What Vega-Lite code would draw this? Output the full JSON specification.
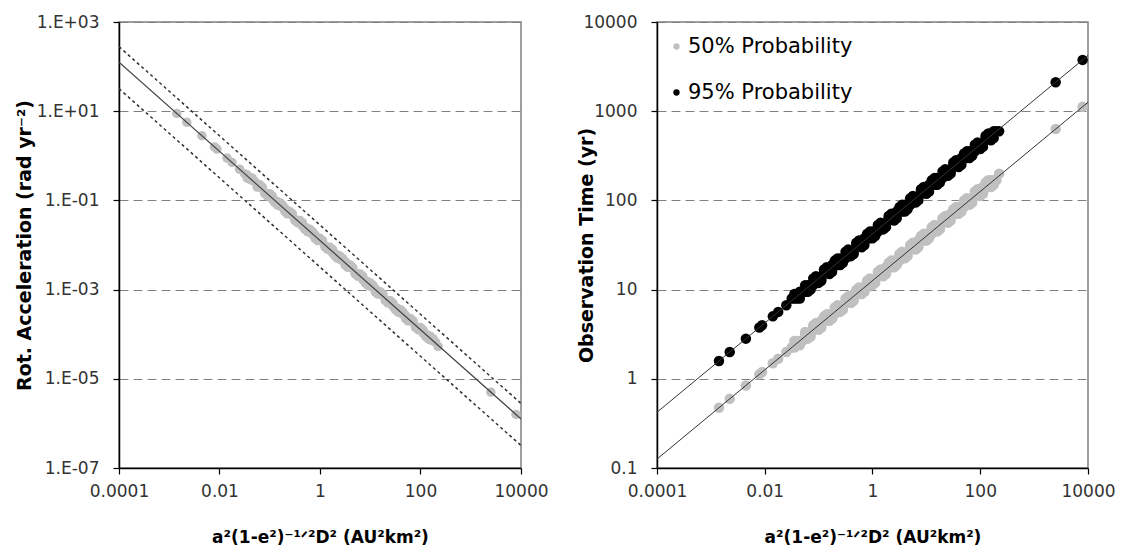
{
  "$schema": "https://vega.github.io/schema/vega-lite/v6.json",
  "padding": {"left": 14, "top": 12, "right": 5, "bottom": 5},
  "background": "white",
  "datasets": {
    "pts": [
      {"x":0.001413,"acc":8.913,"t50":0.4732,"t95":1.585},
      {"x":0.002239,"acc":5.623,"t50":0.5957,"t95":1.995},
      {"x":0.004467,"acc":2.818,"t50":0.8414,"t95":2.818},
      {"x":0.007943,"acc":1.585,"t50":1.122,"t95":3.758},
      {"x":0.008913,"acc":1.413,"t50":1.189,"t95":3.981},
      {"x":0.01413,"acc":0.8913,"t50":1.496,"t95":5.012},
      {"x":0.01778,"acc":0.7079,"t50":1.679,"t95":5.623},
      {"x":0.02512,"acc":0.5012,"t50":1.995,"t95":6.683},
      {"x":0.03162,"acc":0.3981,"t50":2.239,"t95":7.943},
      {"x":0.03548,"acc":0.3758,"t50":2.239,"t95":7.943},
      {"x":0.03981,"acc":0.2985,"t50":2.661,"t95":7.943},
      {"x":0.04467,"acc":0.2818,"t50":2.661,"t95":9.441},
      {"x":0.05012,"acc":0.2661,"t50":2.661,"t95":9.441},
      {"x":0.05623,"acc":0.2113,"t50":3.162,"t95":9.441},
      {"x":0.0631,"acc":0.1995,"t50":3.162,"t95":11.22},
      {"x":0.07079,"acc":0.1884,"t50":3.162,"t95":11.22},
      {"x":0.07943,"acc":0.1496,"t50":3.758,"t95":11.22},
      {"x":0.08913,"acc":0.1413,"t50":3.758,"t95":13.34},
      {"x":0.1,"acc":0.1334,"t50":3.758,"t95":13.34},
      {"x":0.1122,"acc":0.1059,"t50":4.467,"t95":13.34},
      {"x":0.1259,"acc":0.1,"t50":4.467,"t95":15.85},
      {"x":0.1413,"acc":0.09441,"t50":4.467,"t95":15.85},
      {"x":0.1585,"acc":0.07499,"t50":5.309,"t95":15.85},
      {"x":0.1778,"acc":0.07079,"t50":5.309,"t95":18.84},
      {"x":0.1995,"acc":0.06683,"t50":5.309,"t95":18.84},
      {"x":0.2239,"acc":0.05309,"t50":6.31,"t95":18.84},
      {"x":0.2512,"acc":0.05012,"t50":6.31,"t95":22.39},
      {"x":0.2818,"acc":0.04732,"t50":6.31,"t95":22.39},
      {"x":0.3162,"acc":0.03758,"t50":7.499,"t95":22.39},
      {"x":0.3548,"acc":0.03548,"t50":7.499,"t95":26.61},
      {"x":0.3981,"acc":0.0335,"t50":7.499,"t95":26.61},
      {"x":0.4467,"acc":0.02661,"t50":8.913,"t95":26.61},
      {"x":0.5012,"acc":0.02512,"t50":8.913,"t95":31.62},
      {"x":0.5623,"acc":0.02371,"t50":8.913,"t95":31.62},
      {"x":0.631,"acc":0.01884,"t50":10.59,"t95":31.62},
      {"x":0.7079,"acc":0.01778,"t50":10.59,"t95":37.58},
      {"x":0.7943,"acc":0.01679,"t50":10.59,"t95":37.58},
      {"x":0.8913,"acc":0.01334,"t50":12.59,"t95":37.58},
      {"x":1,"acc":0.01259,"t50":12.59,"t95":44.67},
      {"x":1.122,"acc":0.01189,"t50":12.59,"t95":44.67},
      {"x":1.259,"acc":0.009441,"t50":14.96,"t95":44.67},
      {"x":1.413,"acc":0.008913,"t50":14.96,"t95":53.09},
      {"x":1.585,"acc":0.008414,"t50":14.96,"t95":53.09},
      {"x":1.778,"acc":0.006683,"t50":17.78,"t95":53.09},
      {"x":1.995,"acc":0.00631,"t50":17.78,"t95":63.1},
      {"x":2.239,"acc":0.005957,"t50":17.78,"t95":63.1},
      {"x":2.512,"acc":0.004732,"t50":21.13,"t95":63.1},
      {"x":2.818,"acc":0.004467,"t50":21.13,"t95":74.99},
      {"x":3.162,"acc":0.004217,"t50":21.13,"t95":74.99},
      {"x":3.548,"acc":0.00335,"t50":25.12,"t95":74.99},
      {"x":3.981,"acc":0.003162,"t50":25.12,"t95":89.13},
      {"x":4.467,"acc":0.002985,"t50":25.12,"t95":89.13},
      {"x":5.012,"acc":0.002371,"t50":29.85,"t95":89.13},
      {"x":5.623,"acc":0.002239,"t50":29.85,"t95":105.9},
      {"x":6.31,"acc":0.002113,"t50":29.85,"t95":105.9},
      {"x":7.079,"acc":0.001679,"t50":35.48,"t95":105.9},
      {"x":7.943,"acc":0.001585,"t50":35.48,"t95":125.9},
      {"x":8.913,"acc":0.001496,"t50":35.48,"t95":125.9},
      {"x":10,"acc":0.001189,"t50":42.17,"t95":125.9},
      {"x":11.22,"acc":0.001122,"t50":42.17,"t95":149.6},
      {"x":12.59,"acc":0.001059,"t50":42.17,"t95":149.6},
      {"x":14.13,"acc":0.0008414,"t50":50.12,"t95":149.6},
      {"x":15.85,"acc":0.0007943,"t50":50.12,"t95":177.8},
      {"x":17.78,"acc":0.0007499,"t50":50.12,"t95":177.8},
      {"x":19.95,"acc":0.0005957,"t50":59.57,"t95":177.8},
      {"x":22.39,"acc":0.0005623,"t50":59.57,"t95":211.3},
      {"x":25.12,"acc":0.0005309,"t50":59.57,"t95":211.3},
      {"x":28.18,"acc":0.0004217,"t50":70.79,"t95":211.3},
      {"x":31.62,"acc":0.0003981,"t50":70.79,"t95":251.2},
      {"x":35.48,"acc":0.0003758,"t50":70.79,"t95":251.2},
      {"x":39.81,"acc":0.0002985,"t50":84.14,"t95":251.2},
      {"x":44.67,"acc":0.0002818,"t50":84.14,"t95":298.5},
      {"x":50.12,"acc":0.0002661,"t50":84.14,"t95":298.5},
      {"x":56.23,"acc":0.0002113,"t50":100,"t95":298.5},
      {"x":63.1,"acc":0.0001995,"t50":100,"t95":354.8},
      {"x":70.79,"acc":0.0001884,"t50":100,"t95":354.8},
      {"x":79.43,"acc":0.0001496,"t50":118.9,"t95":354.8},
      {"x":89.13,"acc":0.0001413,"t50":118.9,"t95":421.7},
      {"x":100,"acc":0.0001334,"t50":118.9,"t95":421.7},
      {"x":112.2,"acc":0.0001059,"t50":141.3,"t95":421.7},
      {"x":125.9,"acc":0.0001,"t50":141.3,"t95":501.2},
      {"x":141.3,"acc":0.00009441,"t50":141.3,"t95":501.2},
      {"x":158.5,"acc":0.00007499,"t50":167.9,"t95":501.2},
      {"x":177.8,"acc":0.00007079,"t50":167.9,"t95":595.7},
      {"x":199.5,"acc":0.00006683,"t50":167.9,"t95":595.7},
      {"x":223.9,"acc":0.00005309,"t50":199.5,"t95":595.7},
      {"x":2512,"acc":0.000005012,"t50":631,"t95":2113},
      {"x":7943,"acc":0.000001585,"t50":1122,"t95":3758},
      {"x":0.0631,"acc":0.2239,"t50":2.818,"t95":9.441},
      {"x":0.07943,"acc":0.1413,"t50":3.981,"t95":13.34},
      {"x":0.1,"acc":0.1413,"t50":3.548,"t95":11.89},
      {"x":0.1259,"acc":0.08913,"t50":5.012,"t95":16.79},
      {"x":0.1585,"acc":0.08913,"t50":4.467,"t95":14.96},
      {"x":0.1995,"acc":0.05623,"t50":6.31,"t95":21.13},
      {"x":0.2512,"acc":0.05623,"t50":5.623,"t95":18.84},
      {"x":0.3162,"acc":0.03548,"t50":7.943,"t95":26.61},
      {"x":0.3981,"acc":0.03548,"t50":7.079,"t95":23.71},
      {"x":0.5012,"acc":0.02239,"t50":10,"t95":33.5},
      {"x":0.631,"acc":0.02239,"t50":8.913,"t95":29.85},
      {"x":0.7943,"acc":0.01413,"t50":12.59,"t95":42.17},
      {"x":1,"acc":0.01413,"t50":11.22,"t95":37.58},
      {"x":1.259,"acc":0.008913,"t50":15.85,"t95":53.09},
      {"x":1.585,"acc":0.008913,"t50":14.13,"t95":47.32},
      {"x":1.995,"acc":0.005623,"t50":19.95,"t95":66.83},
      {"x":2.512,"acc":0.005623,"t50":17.78,"t95":59.57},
      {"x":3.162,"acc":0.003548,"t50":25.12,"t95":84.14},
      {"x":3.981,"acc":0.003548,"t50":22.39,"t95":74.99},
      {"x":5.012,"acc":0.002239,"t50":31.62,"t95":105.9},
      {"x":6.31,"acc":0.002239,"t50":28.18,"t95":94.41},
      {"x":7.943,"acc":0.001413,"t50":39.81,"t95":133.4},
      {"x":10,"acc":0.001413,"t50":35.48,"t95":118.9},
      {"x":12.59,"acc":0.0008913,"t50":50.12,"t95":167.9},
      {"x":15.85,"acc":0.0008913,"t50":44.67,"t95":149.6},
      {"x":19.95,"acc":0.0005623,"t50":63.1,"t95":211.3},
      {"x":25.12,"acc":0.0005623,"t50":56.23,"t95":188.4},
      {"x":31.62,"acc":0.0003548,"t50":79.43,"t95":266.1},
      {"x":39.81,"acc":0.0003548,"t50":70.79,"t95":237.1},
      {"x":50.12,"acc":0.0002239,"t50":100,"t95":335},
      {"x":63.1,"acc":0.0002239,"t50":89.13,"t95":298.5},
      {"x":79.43,"acc":0.0001413,"t50":125.9,"t95":421.7},
      {"x":100,"acc":0.0001413,"t50":112.2,"t95":375.8},
      {"x":125.9,"acc":0.00008913,"t50":158.5,"t95":530.9},
      {"x":158.5,"acc":0.00008913,"t50":141.3,"t95":473.2},
      {"x":0.03548,"acc":0.3162,"t50":2.661,"t95":8.913},
      {"x":0.04467,"acc":0.3162,"t50":2.371,"t95":7.943},
      {"x":0.05623,"acc":0.1995,"t50":3.35,"t95":11.22},
      {"x":0.07079,"acc":0.1995,"t50":2.985,"t95":10},
      {"x":0.08913,"acc":0.1259,"t50":4.217,"t95":14.13},
      {"x":0.1122,"acc":0.1259,"t50":3.758,"t95":12.59},
      {"x":0.1413,"acc":0.07943,"t50":5.309,"t95":17.78},
      {"x":0.1778,"acc":0.07943,"t50":4.732,"t95":15.85},
      {"x":0.2239,"acc":0.05012,"t50":6.683,"t95":22.39},
      {"x":0.2818,"acc":0.05012,"t50":5.957,"t95":19.95},
      {"x":0.3548,"acc":0.03162,"t50":8.414,"t95":28.18},
      {"x":0.4467,"acc":0.03162,"t50":7.499,"t95":25.12},
      {"x":0.5623,"acc":0.01995,"t50":10.59,"t95":35.48},
      {"x":0.7079,"acc":0.01995,"t50":9.441,"t95":31.62},
      {"x":0.8913,"acc":0.01259,"t50":13.34,"t95":44.67},
      {"x":1.122,"acc":0.01259,"t50":11.89,"t95":39.81},
      {"x":1.413,"acc":0.007943,"t50":16.79,"t95":56.23},
      {"x":1.778,"acc":0.007943,"t50":14.96,"t95":50.12},
      {"x":2.239,"acc":0.005012,"t50":21.13,"t95":70.79},
      {"x":2.818,"acc":0.005012,"t50":18.84,"t95":63.1},
      {"x":3.548,"acc":0.003162,"t50":26.61,"t95":89.13},
      {"x":4.467,"acc":0.003162,"t50":23.71,"t95":79.43},
      {"x":5.623,"acc":0.001995,"t50":33.5,"t95":112.2},
      {"x":7.079,"acc":0.001995,"t50":29.85,"t95":100},
      {"x":8.913,"acc":0.001259,"t50":42.17,"t95":141.3},
      {"x":11.22,"acc":0.001259,"t50":37.58,"t95":125.9},
      {"x":14.13,"acc":0.0007943,"t50":53.09,"t95":177.8},
      {"x":17.78,"acc":0.0007943,"t50":47.32,"t95":158.5},
      {"x":22.39,"acc":0.0005012,"t50":66.83,"t95":223.9},
      {"x":28.18,"acc":0.0005012,"t50":59.57,"t95":199.5},
      {"x":35.48,"acc":0.0003162,"t50":84.14,"t95":281.8},
      {"x":44.67,"acc":0.0003162,"t50":74.99,"t95":251.2},
      {"x":56.23,"acc":0.0001995,"t50":105.9,"t95":354.8},
      {"x":70.79,"acc":0.0001995,"t50":94.41,"t95":316.2},
      {"x":89.13,"acc":0.0001259,"t50":133.4,"t95":446.7},
      {"x":112.2,"acc":0.0001259,"t50":118.9,"t95":398.1},
      {"x":141.3,"acc":0.00007943,"t50":167.9,"t95":562.3},
      {"x":177.8,"acc":0.00007943,"t50":149.6,"t95":501.2}
    ],
    "fitL": [
      {"x":0.0001,"acc":125.9,"line":"fit"},
      {"x":10000,"acc":0.000001259,"line":"fit"},
      {"x":0.0001,"acc":280,"line":"upper"},
      {"x":10000,"acc":0.0000028,"line":"upper"},
      {"x":0.0001,"acc":32,"line":"lower"},
      {"x":10000,"acc":0.00000032,"line":"lower"}
    ],
    "fitR": [
      {"x":0.0001,"t":0.1259,"series":"t50"},
      {"x":10000,"t":1259,"series":"t50"},
      {"x":0.0001,"t":0.4217,"series":"t95"},
      {"x":10000,"t":4217,"series":"t95"}
    ]
  },
  "config": {
    "font": "DejaVu Sans",
    "view": {"stroke": "#808080", "strokeWidth": 1.5},
    "axis": {
      "labelFont": "DejaVu Sans", "labelFontSize": 17, "labelColor": "#333333", "labelFlush": false,
      "titleFont": "DejaVu Sans", "titleFontSize": 17, "titleFontWeight": "bold", "titleColor": "#000000",
      "domainColor": "#000000", "domainWidth": 1.5, "tickColor": "#000000", "tickSize": 6, "tickWidth": 1.2,
      "grid": false
    },
    "concat": {"spacing": 27}
  },
  "hconcat": [
    {
      "width": 402, "height": 446,
      "layer": [
        {
          "data": {"name": "pts"},
          "mark": {"type": "circle", "size": 90, "color": "#c0c0c0", "opacity": 1},
          "encoding": {
            "x": {"field": "x", "type": "quantitative",
              "scale": {"type": "log", "domain": [0.0001, 10000], "nice": false},
              "axis": {"values": [0.0001, 0.01, 1, 100, 10000], "format": "~g", "title": "a²(1-e²)⁻¹ᐟ²D² (AU²km²)", "labelPadding": 9, "titleY": 61}},
            "y": {"field": "acc", "type": "quantitative",
              "scale": {"type": "log", "domain": [1e-7, 1000], "nice": false},
              "axis": {"values": [1e-7, 1e-5, 0.001, 0.1, 10, 1000],
                "labelExpr": "(datum.value >= 1 ? '1.E+0' : '1.E-0') + format(abs(round(log(datum.value)/LN10)), 'd')",
                "grid": true, "gridDash": [9, 5], "gridColor": "#808080", "gridWidth": 1,
                "title": "Rot. Acceleration (rad yr⁻²)", "titleFontSize": 19, "labelPadding": 14, "titleX": -85}}
          }
        },
        {
          "data": {"name": "fitL"},
          "transform": [{"filter": "datum.line == 'fit'"}],
          "mark": {"type": "line", "color": "#404040", "strokeWidth": 1.2, "clip": true},
          "encoding": {
            "x": {"field": "x", "type": "quantitative"},
            "y": {"field": "acc", "type": "quantitative"}
          }
        },
        {
          "data": {"name": "fitL"},
          "transform": [{"filter": "datum.line != 'fit'"}],
          "mark": {"type": "line", "color": "#303030", "strokeWidth": 1.5, "strokeDash": [3, 3], "clip": true},
          "encoding": {
            "x": {"field": "x", "type": "quantitative"},
            "y": {"field": "acc", "type": "quantitative"},
            "detail": {"field": "line"}
          }
        }
      ]
    },
    {
      "width": 431, "height": 446,
      "layer": [
        {
          "data": {"name": "pts"},
          "transform": [{"fold": ["t50", "t95"], "as": ["series", "t"]}],
          "mark": {"type": "circle", "size": 110, "opacity": 1},
          "encoding": {
            "x": {"field": "x", "type": "quantitative",
              "scale": {"type": "log", "domain": [0.0001, 10000], "nice": false},
              "axis": {"values": [0.0001, 0.01, 1, 100, 10000], "format": "~g", "title": "a²(1-e²)⁻¹ᐟ²D² (AU²km²)", "labelPadding": 9, "titleY": 61}},
            "y": {"field": "t", "type": "quantitative",
              "scale": {"type": "log", "domain": [0.1, 10000], "nice": false},
              "axis": {"values": [0.1, 1, 10, 100, 1000, 10000], "format": "~g",
                "grid": true, "gridDash": [9, 5], "gridColor": "#808080", "gridWidth": 1,
                "title": "Observation Time (yr)", "titleFontSize": 19, "labelPadding": 14, "titleX": -61}},
            "color": {"field": "series", "type": "nominal",
              "scale": {"domain": ["t50", "t95"], "range": ["#c0c0c0", "#000000"]},
              "legend": {"orient": "none", "legendX": 547, "legendY": 14, "title": null,
                "labelExpr": "datum.label == 't50' ? '50% Probability' : '95% Probability'",
                "labelFont": "DejaVu Sans", "labelFontSize": 21, "labelColor": "#000000", "labelLimit": 400,
                "symbolType": "circle", "symbolSize": 40, "symbolStrokeWidth": 0,
                "labelOffset": 1, "rowPadding": 24, "padding": 0}}
          }
        },
        {
          "data": {"name": "fitR"},
          "mark": {"type": "line", "color": "#333333", "strokeWidth": 1, "clip": true},
          "encoding": {
            "x": {"field": "x", "type": "quantitative"},
            "y": {"field": "t", "type": "quantitative"},
            "detail": {"field": "series"}
          }
        }
      ]
    }
  ]
}
